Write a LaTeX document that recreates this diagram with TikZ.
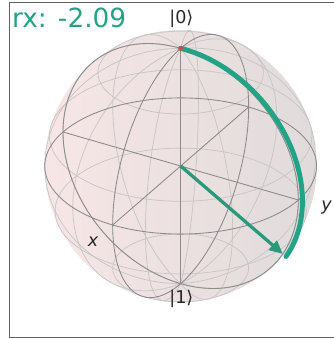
\documentclass[tikz,border=0pt]{standalone}
\usepackage{fontspec}
\setmainfont{DejaVu Sans}
\usetikzlibrary{arrows.meta}
\definecolor{traceC}{HTML}{22A385}
\definecolor{vecC}{HTML}{2B9879}
\definecolor{poleR}{HTML}{D9473F}
\definecolor{sphL}{RGB}{248,230,230}
\definecolor{sphR}{RGB}{224,219,219}
\tikzset{
  wire/.style={draw=black!22, line width=0.65pt},
  frameline/.style={draw=black!45, line width=0.75pt},
  trace/.style={draw=traceC, line width=4.2pt, line cap=round},
  vecarr/.style={-{Triangle[length=4mm,width=3.6mm]}, draw=vecC, fill=vecC, line width=2.8pt},
  lbl/.style={font=\fontsize{15}{15}\selectfont, text=black!85},
}

\begin{document}
\begin{tikzpicture}
\useasboundingbox (-5.42,-5.16) rectangle (4.57,4.98);
% sphere body
\shade[left color=sphL, right color=sphR] (0,0) circle (4.08);
\begin{scope}[x={(-2.04cm,-1.77cm)}, y={(3.53cm,-1.02cm)}, z={(0cm,3.53cm)}]
% wireframe
\foreach \lat in {52.5,15,-22.5,-60}
  \draw[wire] plot[domain=0:360, samples=73, smooth] ({cos(\lat)*cos(\x)},{cos(\lat)*sin(\x)},{sin(\lat)});
\foreach \lon in {15,52.5,90,127.5,165,202.5,240,270,300,337.5}
  \draw[wire] plot[domain=-90:90, samples=37, smooth] ({cos(\x)*cos(\lon)},{cos(\x)*sin(\lon)},{sin(\x)});
% frame circles
\draw[frameline] plot[domain=0:360, samples=97, smooth] ({cos(\x)},{sin(\x)},{0});
\draw[frameline] plot[domain=0:360, samples=97, smooth] ({cos(\x)},{0},{sin(\x)});
\draw[frameline] plot[domain=0:360, samples=97, smooth] ({0},{cos(\x)},{sin(\x)});
% axes
\coordinate (o) at (0,0,0);
\coordinate (xp) at (1,0,0);
\coordinate (xm) at (-1,0,0);
\coordinate (yp) at (0,1,0);
\coordinate (ym) at (0,-1,0);
\coordinate (zp) at (0,0,1);
\coordinate (zm) at (0,0,-1);
\draw[frameline] (xm) -- (xp);
\draw[frameline] (ym) -- (yp);
\draw[frameline] (zm) -- (zp);
% state
\coordinate (tip) at (0,0.868,-0.496);
\draw[trace] plot[domain=0:119.7, samples=60, smooth] ({0},{(1+0.035*sin(\x))*sin(\x)},{(1+0.035*sin(\x))*cos(\x)});
\draw[vecarr] (o) -- (tip);
\fill[poleR] (zp) circle (0.07cm);
\end{scope}
% labels
\node[lbl] (ket0) at (0.02,4.4) {|0⟩};
\node[lbl] (ket1) at (0.02,-3.98) {|1⟩};
\node[lbl, font=\fontsize{15}{15}\selectfont\itshape] (xlbl) at (-2.63,-2.28) {x};
\node[lbl, font=\fontsize{15}{15}\selectfont\itshape] (ylbl) at (4.38,-1.26) {y};
\node[anchor=base west, inner sep=0pt, text=traceC, font=\fontsize{22.5}{22.5}\selectfont] (title) at (-5.06,4.14) {rx: -2.09};
% outer frame
\draw[black!62, line width=0.8pt] (-5.15,4.92) rectangle (5.2,-5.13);
\end{tikzpicture}
\end{document}
